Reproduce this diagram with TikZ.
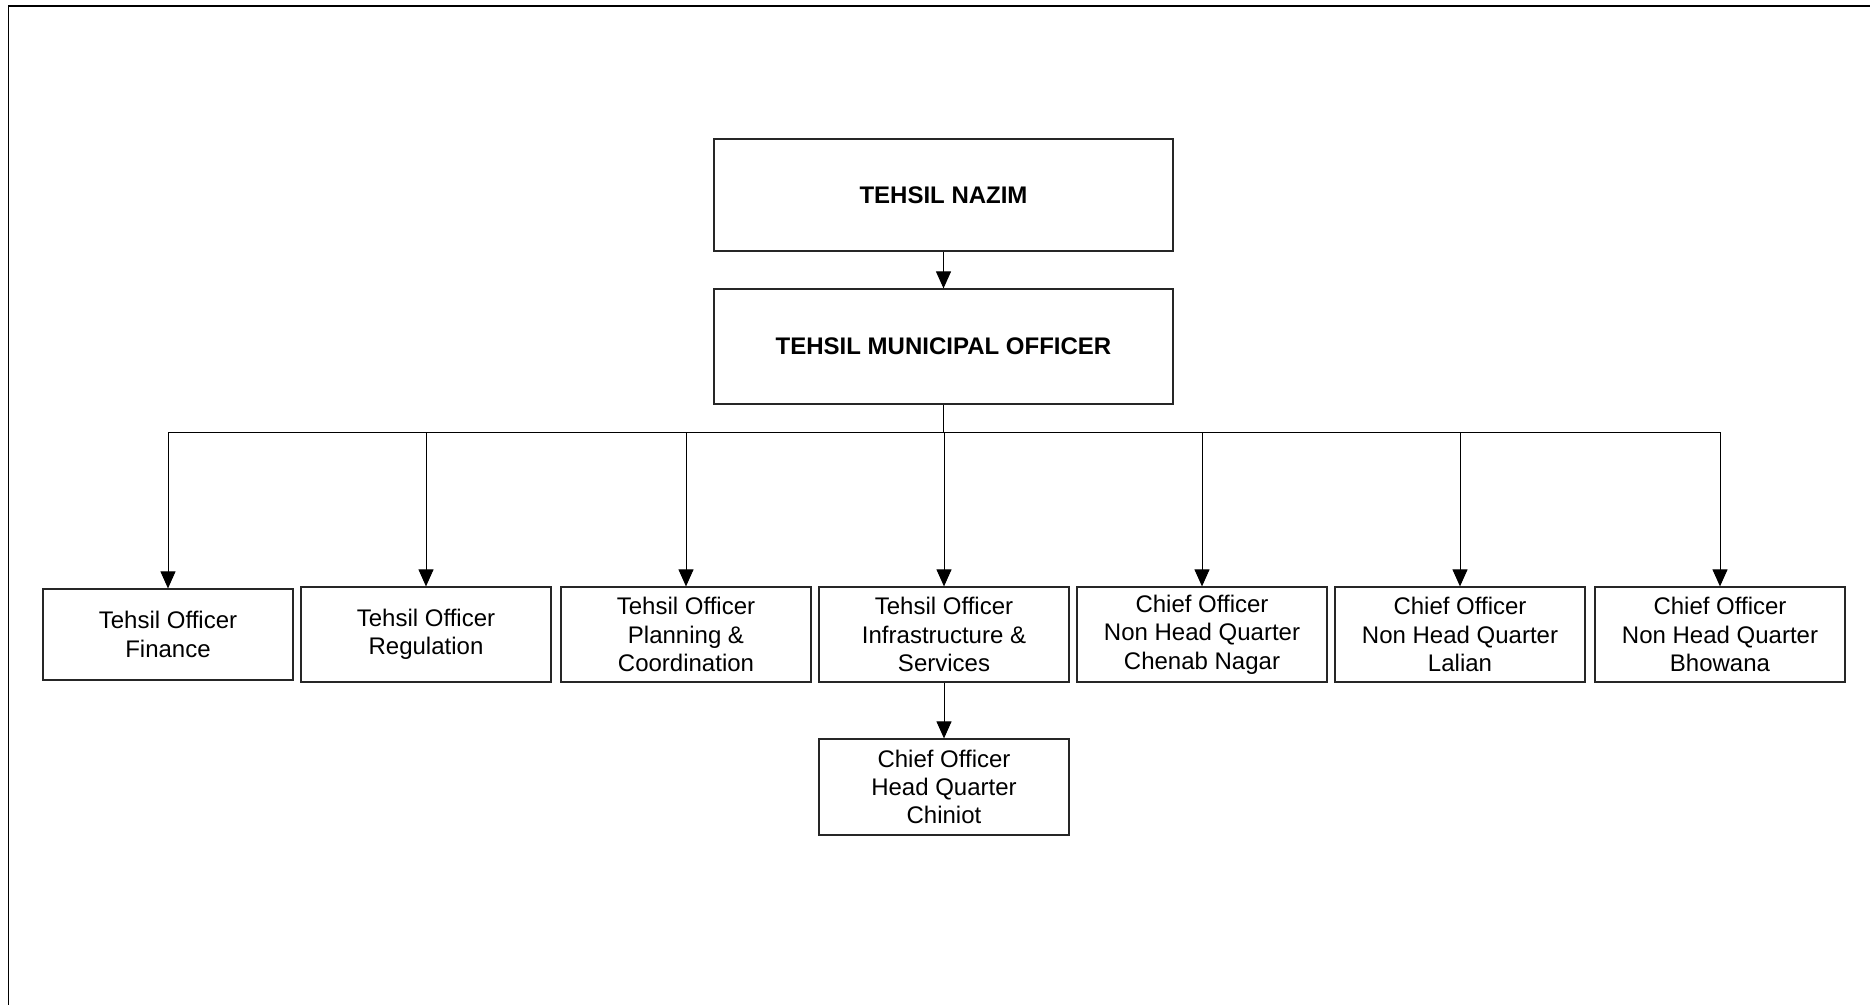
\documentclass[tikz,border=0pt]{standalone}
\usepackage{fontspec}
\setmainfont{Liberation Sans}
\usetikzlibrary{arrows.meta}
\begin{document}
\begin{tikzpicture}[x=0.5pt,y=-0.5pt,
  topbox/.style={draw=black!85,line width=0.6pt,rectangle,inner sep=0pt,
    minimum width=229.5pt,font=\fontsize{12}{14.2}\selectfont\bfseries},
  unitbox/.style={draw=black!85,line width=0.6pt,rectangle,inner sep=0pt,
    minimum width=125pt,minimum height=47.5pt,align=center,
    font=\fontsize{12}{14.2}\selectfont},
  link/.style={line width=0.5pt,-{Triangle[length=8.5pt,width=7.5pt]}},
  plain/.style={line width=0.5pt}]
\useasboundingbox (0,0) rectangle (1870,1005);
\draw[line width=0.85pt] (8.5,1005) -- (8.5,5.7) -- (1870,5.7);

\node[topbox,minimum height=56pt] (nazim) at (943.5,195) {TEHSIL NAZIM};
\node[topbox,minimum height=57.5pt] (tmo) at (943.5,346.5) {TEHSIL MUNICIPAL OFFICER};

\node[unitbox,minimum height=45.5pt] (fin) at (168,634.5) {Tehsil Officer\\Finance};
\node[unitbox] (reg) at (426,634.5) {Tehsil Officer\\Regulation};
\node[unitbox] (plan) at (686,634.5) {Tehsil Officer\\Planning \&\\Coordination};
\node[unitbox] (infra) at (944,634.5) {Tehsil Officer\\Infrastructure \&\\Services};
\node[unitbox] (chenab) at (1202,634.5) {Chief Officer\\Non Head Quarter\\Chenab Nagar};
\node[unitbox] (lalian) at (1460,634.5) {Chief Officer\\Non Head Quarter\\Lalian};
\node[unitbox] (bhow) at (1720,634.5) {Chief Officer\\Non Head Quarter\\Bhowana};
\node[unitbox,minimum height=48pt] (chin) at (944,787) {Chief Officer\\Head Quarter\\Chiniot};

\coordinate (bus) at (943.5,433);

\draw[link] (nazim) -- (tmo);
\draw[plain] (tmo.south) -- (bus);
\foreach \c in {fin,reg,plan,infra,chenab,lalian,bhow}
  \draw[link] (bus) -| (\c.north);
\draw[link] (infra) -- (chin);
\end{tikzpicture}
\end{document}
